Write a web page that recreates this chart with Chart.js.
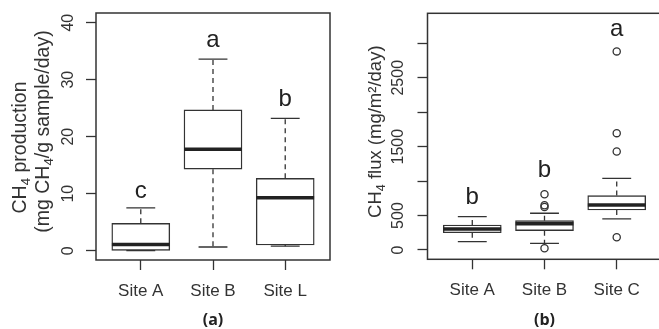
<!DOCTYPE html>
<html>
<head>
<meta charset="utf-8">
<script src="https://cdn.jsdelivr.net/npm/chart.js@4"></script>
<style>
html, body { margin: 0; padding: 0; background: #fff; overflow: hidden; width: 659px; height: 329px; }
#wa { position: absolute; left: 0; top: 0; }
#wb { position: absolute; left: 330px; top: 0; }
</style>
</head>
<body>
<div id="wa"><canvas id="ca" width="331" height="329"></canvas></div>
<div id="wb"><canvas id="cb" width="340" height="329"></canvas></div>
<script>
// panel (a) - CH4 production
const prodSites = ['Site A', 'Site B', 'Site L'];
const prodLow = [0, 0.65, 0.8];
const prodQ1 = [0.05, 14.3, 1.0];
const prodMedian = [1.1, 17.8, 9.3];
const prodQ3 = [4.8, 24.7, 12.7];
const prodHigh = [7.5, 33.6, 23.2];
const prodOutliers = [[], [], []];
const prodLetters = ['c', 'a', 'b'];
const prodLetterY = [9.2, 35.8, 25.3];
const prodTicks = [0, 10, 20, 30, 40];

// panel (b) - CH4 flux
const fluxSites = ['Site A', 'Site B', 'Site C'];
const fluxLow = [121, 97, 451];
const fluxQ1 = [251, 281, 581];
const fluxMedian = [303, 380, 654];
const fluxQ3 = [363, 426, 790];
const fluxHigh = [484, 533, 1040];
const fluxOutliers = [[], [810, 650, 625, 25], [2882, 1696, 1429, 185]];
const fluxLetters = ['b', 'b', 'a'];
const fluxLetterY = [669, 1065, 3110];
const fluxTicks = [0, 500, 1500, 2500];

const INK = '#333';

// draws text with subscript parts, rotated to read bottom-to-top
function richVertical(ctx, parts, baseX, centerY, size) {
    ctx.save();
    ctx.translate(baseX, centerY);
    ctx.rotate(-Math.PI / 2);
    ctx.fillStyle = INK;
    ctx.textBaseline = 'alphabetic';
    ctx.textAlign = 'left';
    let total = 0;
    parts.forEach(p => {
        ctx.font = (p.sub ? size * 0.68 : size) + 'px "Liberation Sans", Arial, sans-serif';
        total += ctx.measureText(p.t).width;
    });
    let x = -total / 2;
    parts.forEach(p => {
        ctx.font = (p.sub ? size * 0.68 : size) + 'px "Liberation Sans", Arial, sans-serif';
        ctx.fillText(p.t, x, p.sub ? size * 0.22 : 0);
        x += ctx.measureText(p.t).width;
    });
    ctx.restore();
}

function boxPlugin(cfg) {
    return {
        id: 'boxes',
        beforeDatasetsDraw(chart) {
            const ctx = chart.ctx, xs = chart.scales.x, ys = chart.scales.y;
            ctx.save();
            ctx.strokeStyle = INK;
            ctx.lineWidth = 1.3;
            cfg.low.forEach((lo, i) => {
                const x = xs.getPixelForValue(i + 1);
                const hw = xs.getPixelForValue(i + 1.2) - x;
                ctx.setLineDash([5, 4]);
                ctx.beginPath();
                ctx.moveTo(x, ys.getPixelForValue(cfg.q3[i]));
                ctx.lineTo(x, ys.getPixelForValue(cfg.high[i]));
                ctx.moveTo(x, ys.getPixelForValue(cfg.q1[i]));
                ctx.lineTo(x, ys.getPixelForValue(lo));
                ctx.stroke();
                ctx.setLineDash([]);
                ctx.beginPath();
                [lo, cfg.high[i]].forEach(v => {
                    const y = ys.getPixelForValue(v);
                    ctx.moveTo(x - hw, y);
                    ctx.lineTo(x + hw, y);
                });
                ctx.stroke();
            });
            ctx.restore();
        },
        afterDatasetsDraw(chart) {
            const ctx = chart.ctx, xs = chart.scales.x, ys = chart.scales.y;
            ctx.save();
            ctx.strokeStyle = '#222';
            ctx.lineWidth = 3.5;
            cfg.median.forEach((m, i) => {
                const y = ys.getPixelForValue(m);
                ctx.beginPath();
                ctx.moveTo(xs.getPixelForValue(i + 0.6), y);
                ctx.lineTo(xs.getPixelForValue(i + 1.4), y);
                ctx.stroke();
            });
            ctx.restore();
        },
        afterDraw(chart) {
            const ctx = chart.ctx, a = chart.chartArea, xs = chart.scales.x, ys = chart.scales.y;
            ctx.save();
            ctx.strokeStyle = INK;
            ctx.lineWidth = 1.5;
            ctx.strokeRect(a.left, a.top, a.right - a.left, a.bottom - a.top);

            // group letters
            ctx.fillStyle = '#222';
            ctx.font = '24px "Liberation Sans", Arial, sans-serif';
            ctx.textAlign = 'center';
            ctx.textBaseline = 'alphabetic';
            cfg.letters.forEach((l, i) => {
                ctx.fillText(l, xs.getPixelForValue(i + 1), ys.getPixelForValue(cfg.letterY[i]));
            });

            // y tick labels, rotated like base R
            ctx.fillStyle = INK;
            ctx.font = '16px "Liberation Sans", Arial, sans-serif';
            cfg.tickLabels.forEach(v => {
                ctx.save();
                ctx.translate(cfg.tickBase, ys.getPixelForValue(v));
                ctx.rotate(-Math.PI / 2);
                ctx.fillText(String(v), 0, 0);
                ctx.restore();
            });
            ctx.restore();

            cfg.title.forEach(line => richVertical(ctx, line.parts, line.x, line.y, cfg.titleSize));

            ctx.save();
            ctx.fillStyle = '#222';
            ctx.font = 'bold 16px "Open Sans", sans-serif';
            ctx.textAlign = 'center';
            ctx.textBaseline = 'alphabetic';
            ctx.fillText(cfg.panel, xs.getPixelForValue(2), 325);
            ctx.restore();
        }
    };
}

function makeChart(id, cfg) {
    const boxes = cfg.q1.map((q, i) => ({ x: i + 1, y: [q, cfg.q3[i]] }));
    const outs = [];
    cfg.outliers.forEach((list, i) => list.forEach(v => outs.push({ x: i + 1, y: v })));

    return new Chart(document.getElementById(id), {
        type: 'bar',
        data: {
            datasets: [{
                data: boxes,
                backgroundColor: '#fff',
                borderColor: INK,
                borderWidth: 1.4,
                borderSkipped: false,
                barThickness: 58
            }, {
                type: 'scatter',
                data: outs,
                pointStyle: 'circle',
                pointRadius: 3.6,
                pointBorderWidth: 1.3,
                pointBorderColor: INK,
                pointBackgroundColor: 'rgba(0,0,0,0)'
            }]
        },
        options: {
            responsive: false,
            animation: false,
            events: [],
            layout: { padding: cfg.padding },
            plugins: { legend: { display: false }, tooltip: { enabled: false } },
            scales: {
                x: {
                    type: 'linear',
                    offset: false,
                    min: 0.38,
                    max: 3.62,
                    afterBuildTicks: s => { s.ticks = [1, 2, 3].map(v => ({ value: v })); },
                    afterFit: s => { s.height = cfg.xHeight; },
                    ticks: {
                        callback: (v, i) => cfg.sites[i],
                        font: { family: '"Liberation Sans", Arial, sans-serif', size: 17 },
                        color: INK,
                        padding: 11,
                        autoSkip: false,
                        maxRotation: 0
                    },
                    grid: { offset: false, drawOnChartArea: false, tickLength: 10, color: INK, tickWidth: 1.3 },
                    border: { display: false }
                },
                y: {
                    min: cfg.yMin,
                    max: cfg.yMax,
                    afterBuildTicks: s => { s.ticks = cfg.yTicks.map(v => ({ value: v })); },
                    afterFit: s => { s.width = cfg.yWidth; },
                    ticks: { display: false },
                    grid: { drawOnChartArea: false, tickLength: 10, color: INK, tickWidth: 1.3 },
                    border: { display: false }
                }
            }
        },
        plugins: [boxPlugin(cfg)]
    });
}

makeChart('ca', {
    sites: prodSites, low: prodLow, q1: prodQ1, median: prodMedian, q3: prodQ3, high: prodHigh,
    outliers: prodOutliers, letters: prodLetters, letterY: prodLetterY,
    yMin: -1.63, yMax: 41.7, yTicks: prodTicks, tickLabels: prodTicks,
    yWidth: 96, xHeight: 69, padding: { top: 13, right: 1, bottom: 0, left: 0 },
    tickBase: 72.5, panel: '(a)', titleSize: 19.5,
    title: [
        { x: 26, y: 147.5, parts: [{ t: 'CH' }, { t: '4', sub: true }, { t: ' production' }] },
        { x: 48.5, y: 131.5, parts: [{ t: '(mg CH' }, { t: '4', sub: true }, { t: '/g sample/day)' }] }
    ]
});

makeChart('cb', {
    sites: fluxSites, low: fluxLow, q1: fluxQ1, median: fluxMedian, q3: fluxQ3, high: fluxHigh,
    outliers: fluxOutliers, letters: fluxLetters, letterY: fluxLetterY,
    yMin: -135, yMax: 3435, yTicks: [0, 500, 1000, 1500, 2000, 2500, 3000], tickLabels: fluxTicks,
    yWidth: 97.5, xHeight: 69.7, padding: { top: 13.3, right: 8.5, bottom: 0, left: 0 },
    tickBase: 73.3, panel: '(b)', titleSize: 18.5,
    title: [
        { x: 51, y: 131.7, parts: [{ t: 'CH' }, { t: '4', sub: true }, { t: ' flux (mg/m\u00B2/day)' }] }
    ]
});
</script>
</body>
</html>
